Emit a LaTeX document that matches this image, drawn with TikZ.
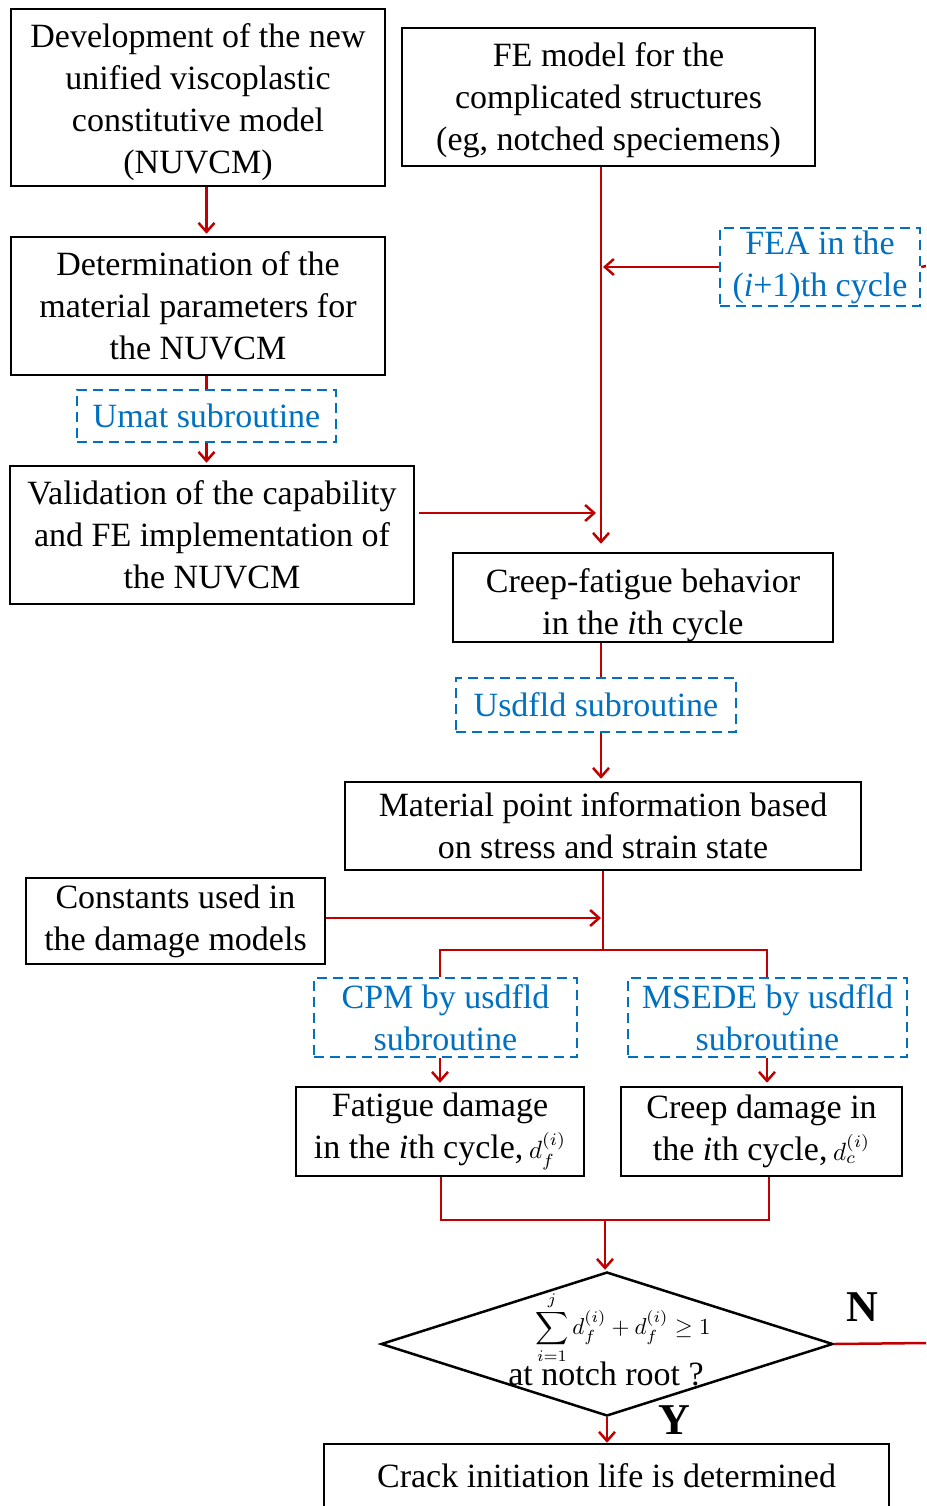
\documentclass[tikz,border=0pt]{standalone}
\usepackage{fontspec}
\setmainfont{Liberation Serif}
\usetikzlibrary{arrows.meta,shapes.geometric}
\definecolor{cred}{HTML}{C00000}
\definecolor{cblue}{HTML}{0070C0}
\newcommand{\bigmath}[2][2.5]{{\fontsize{10}{12}\selectfont\scalebox{#1}{$#2$}}}
\begin{document}
\begin{tikzpicture}[x=1pt,y=-1pt,
  box/.style={draw=black, line width=2.5pt, inner sep=0pt, align=center, font=\fontsize{34}{42}\selectfont},
  dbox/.style={draw=cblue, dash pattern=on 10pt off 6pt, line width=2.5pt, text=cblue, inner sep=0pt, align=center, font=\fontsize{34}{42}\selectfont},
  conn/.style={draw=cred, line width=2.5pt},
  arr/.style={conn, -{Straight Barb[length=9pt,width=16pt]}},
  lbl/.style={font=\fontsize{44}{44}\selectfont\bfseries}
]
\clip (0,0) rectangle (926,1506);
\fill[white] (0,0) rectangle (926,1506);

% boxes
\node[box, minimum width=374pt, minimum height=177pt] (b1) at (198,97.5) {\rule{0pt}{34pt}Development of the new\\unified viscoplastic\\constitutive model\\(NUVCM)};
\node[box, minimum width=374pt, minimum height=138pt] (b2) at (198,306) {Determination of the\\material parameters for\\the NUVCM};
\node[dbox, minimum width=259pt, minimum height=52pt] (umat) at (206.5,416) {Umat subroutine};
\node[box, minimum width=404pt, minimum height=138pt] (b3) at (212,535) {Validation of the capability\\and FE implementation of\\the NUVCM};
\node[box, minimum width=413pt, minimum height=138pt] (fe) at (608.5,97) {\rule{0pt}{31pt}FE model for the\\complicated structures\\(eg, notched speciemens)};
\node[dbox, minimum width=200pt, minimum height=78pt] (fea) at (820,267) {FEA in the\\(\textit{i}+1)th cycle};
\node[box, minimum width=380pt, minimum height=89pt] (cf) at (643,597.5) {\rule{0pt}{39pt}Creep-fatigue behavior\\in the \textit{i}th cycle};
\node[dbox, minimum width=280pt, minimum height=54pt] (usd) at (596,705) {Usdfld subroutine};
\node[box, minimum width=516pt, minimum height=88pt] (mp) at (603,826) {Material point information based\\on stress and strain state};
\node[box, minimum width=299pt, minimum height=86pt] (const) at (175.5,921) {Constants used in\\the damage models};
\node[dbox, minimum width=263pt, minimum height=79pt] (cpm) at (445.5,1017.5) {CPM by usdfld\\subroutine};
\node[dbox, minimum width=279pt, minimum height=79pt] (msede) at (767.5,1017.5) {MSEDE by usdfld\\subroutine};
\node[box, minimum width=288pt, minimum height=89pt] (fat) at (440,1131.5) {Fatigue damage\\ in the \textit{i}th cycle,\,\bigmath{d_f^{(i)}}};
\node[box, minimum width=281pt, minimum height=89pt] (creep) at (761.5,1131.5) {Creep damage in\\ the \textit{i}th cycle,\,\bigmath{d_c^{(i)}}};
\node[draw=black, line width=2.5pt, diamond, inner sep=0pt, minimum width=452pt, minimum height=144pt] (dia) at (607,1344) {};
\node[inner sep=0pt] (sum) at (623,1328) {\bigmath[2.3]{\displaystyle\sum_{i=1}^{j} d_f^{(i)} + d_f^{(i)} \geq 1}};
\node[inner sep=0pt, font=\fontsize{34}{42}\selectfont] (notch) at (606,1374) {at notch root ?};
\node[box, minimum width=565pt, minimum height=64pt] (crack) at (606.5,1476) {Crack initiation life is determined};
\node[lbl] (N) at (862,1307) {N};
\node[lbl] (Y) at (674,1420) {Y};

% coordinates
\coordinate (vx) at (601,0);
\coordinate (vy) at (603,0);
\coordinate (j1) at (601,513);
\coordinate (fr) at (926,266);
\coordinate (jn) at (603,950);
\coordinate (jl) at (440,950);
\coordinate (jr) at (767,950);
\coordinate (jc) at (601,918);
\coordinate (xl) at (441,1220);
\coordinate (xr) at (769,1220);
\coordinate (jb) at (605,1220);
\coordinate (nr) at (926,1343);

% connectors
\draw[arr, shorten >=2pt] (b1.south -| umat) -- (b2.north -| umat);
\draw[conn] (b2.south -| umat) -- (umat.north);
\draw[arr, shorten >=2pt] (umat.south) -- (b3.north -| umat);
\draw[arr, shorten >=8pt] (fe.south -| vx) -- (cf.north -| vx);
\draw[arr, shorten >=5pt, shorten <=4pt] (b3.east |- j1) -- (j1);
\draw[arr, shorten >=2pt] (fea.west) -- (fea.west -| vx);
\draw[conn] (fea.east) -- (fr);
\draw[conn] (cf.south -| vx) -- (usd.north -| vx);
\draw[arr, shorten >=2pt] (usd.south -| vx) -- (mp.north -| vx);
\draw[conn] (mp.south -| vy) -- (jn);
\draw[conn] (cpm.north -| jl) -- (jl) -- (jr) -- (msede.north -| jr);
\draw[arr] (const.east |- jc) -- (jc);
\draw[arr, shorten >=3pt] (cpm.south -| jl) -- (fat.north -| jl);
\draw[arr, shorten >=3pt] (msede.south -| jr) -- (creep.north -| jr);
\draw[conn] (fat.south -| xl) -- (xl) -- (xr) -- (creep.south -| xr);
\draw[arr, shorten >=1pt] (jb) -- (dia.north -| jb);
\draw[conn] (dia.east) -- (nr);
\draw[arr] (dia.south) -- (crack.north -| dia.south);
\end{tikzpicture}
\end{document}
